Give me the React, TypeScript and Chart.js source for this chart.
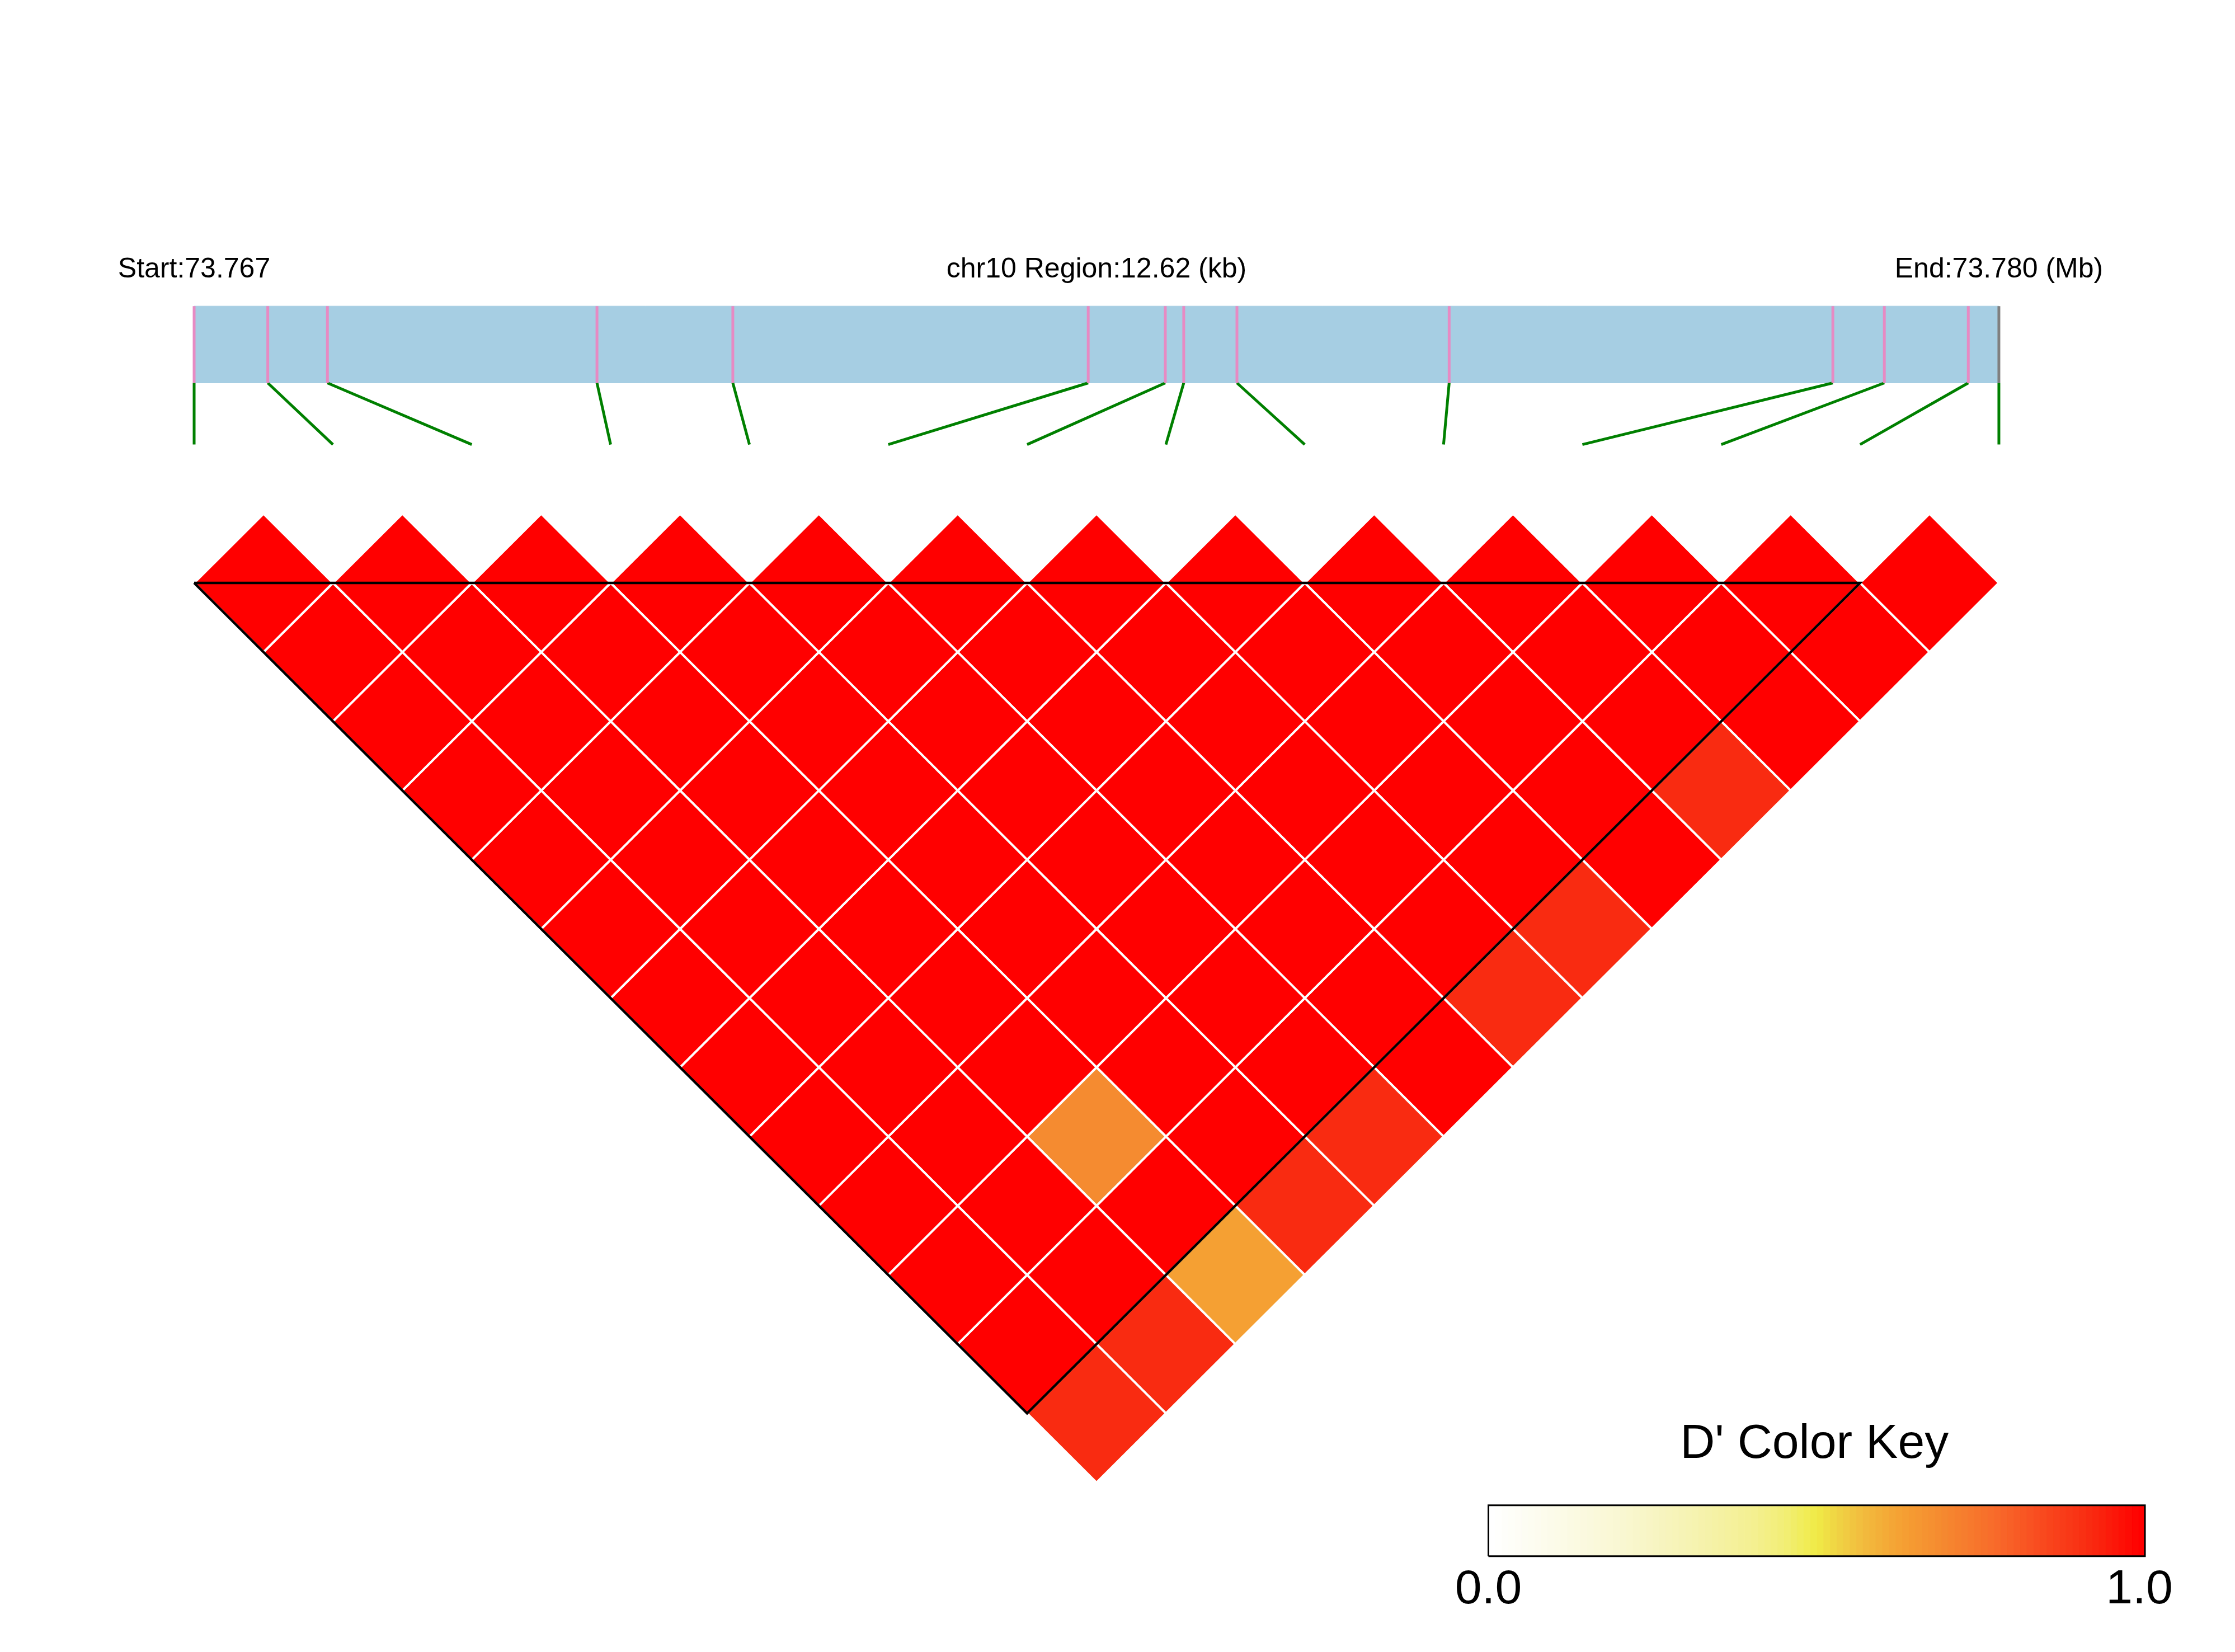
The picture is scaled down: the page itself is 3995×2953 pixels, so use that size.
import React, { useEffect, useRef } from 'react';
import { Chart, registerables } from 'chart.js';

Chart.register(...registerables);

// ---------------- data ----------------
const CHROM = 'chr10';
// SNP physical positions (bp)
const SNP_POS = [
  73767000, 73767515, 73767932, 73769817, 73770767, 73773252, 73773791,
  73773920, 73774292, 73775776, 73778459, 73778819, 73779406, 73779620,
];
// D' values, row i = SNP i paired with SNP i+1 ... SNP last
const DPRIME: number[][] = [
  [1, 1, 1, 1, 1, 1, 1, 1, 1, 1, 1, 1, 0.92],
  [1, 1, 1, 1, 1, 1, 1, 1, 1, 1, 1, 0.92],
  [1, 1, 1, 1, 1, 1, 1, 1, 0.69, 1, 0.63],
  [1, 1, 1, 1, 1, 1, 1, 1, 1, 0.92],
  [1, 1, 1, 1, 1, 1, 1, 1, 0.92],
  [1, 1, 1, 1, 1, 1, 1, 1],
  [1, 1, 1, 1, 1, 1, 0.92],
  [1, 1, 1, 1, 1, 0.92],
  [1, 1, 1, 1, 1],
  [1, 1, 1, 0.92],
  [1, 1, 1],
  [1, 1],
  [1],
];
// LD blocks as [first SNP index, last SNP index]
const LD_BLOCKS = [[0, 12]];
const KEY_TITLE = "D' Color Key";
const KEY_TICKS = [0, 1];

// colour scale (style)
const COLOR_STOPS = [0, 0.1, 0.2, 0.3, 0.4, 0.45, 0.5, 0.53, 0.57, 0.63, 0.69, 0.78, 0.85, 0.92, 1];
const COLOR_HEX = [
  '#FFFFFF', '#FCFBE8', '#F9F7D2', '#F6F3B4', '#F4F092', '#F2EE76', '#F0EB46',
  '#F0D444', '#F2BC3E', '#F5A033', '#F58B30', '#F8682A', '#F9481E', '#F92B11', '#FF0000',
];
const KEY_STEPS = 100;

// ---------------- layout (pixels) ----------------
const W = 3995;
const H = 2953;
const ORIGIN_X = 347;
const UNIT_X = 248.15;
const ORIGIN_Y = 1042;
const UNIT_Y = 247.4;
const KEY_LEFT = 2660.5;
const KEY_RIGHT = 3834;
const KEY_TOP = 2690.7;
const KEY_BOTTOM = 2781.7;
const KEY_LABEL_SHIFT = [0, -10]; // px nudges for tick labels

const BAR_TOP = 2.0;
const BAR_BOTTOM = 1.445;
const CONNECT_Y = 1.0;
const HEADER_Y = 2.205;
const KEY_TITLE_Y = 1.934;
const KEY_LABEL_Y = -0.926;

const BAR_COLOR = '#A6CEE3';
const TICK_COLOR = '#E78AC3';
const LAST_TICK_COLOR = '#808080';
const CONNECT_COLOR = '#008000';
const FONT = '"Liberation Sans", Arial, Helvetica, sans-serif';

function hexToRgb(h: string) {
  const n = parseInt(h.slice(1), 16);
  return [(n >> 16) & 255, (n >> 8) & 255, n & 255];
}
function colorFor(v: number) {
  const t = Math.max(0, Math.min(1, v));
  let k = 0;
  while (k < COLOR_STOPS.length - 2 && t > COLOR_STOPS[k + 1]) k++;
  const a = hexToRgb(COLOR_HEX[k]);
  const b = hexToRgb(COLOR_HEX[k + 1]);
  const f = (t - COLOR_STOPS[k]) / (COLOR_STOPS[k + 1] - COLOR_STOPS[k]);
  const c = a.map((x, i) => Math.round(x + (b[i] - x) * f));
  return `rgb(${c[0]},${c[1]},${c[2]})`;
}

function buildDatasets() {
  const N = SNP_POS.length;
  const start = SNP_POS[0];
  const end = SNP_POS[N - 1];
  const phys = (p: number) => ((p - start) / (end - start)) * (N - 1);
  const ds: any[] = [];
  const base = { showLine: true, pointRadius: 0, pointHoverRadius: 0, tension: 0 };

  // block outlines (on top)
  LD_BLOCKS.forEach(([a, b]) => {
    const mid = (a + b) / 2;
    const depth = -(b - a) / 2;
    ds.push({
      ...base,
      data: [
        { x: a, y: 0 },
        { x: b, y: 0 },
        { x: mid, y: depth },
        { x: a, y: 0 },
      ],
      fill: false,
      borderColor: '#000000',
      borderWidth: 4.5,
      borderJoinStyle: 'miter',
      order: 1,
    });
  });

  // colour key border
  ds.push({
    ...base,
    xAxisID: 'kx',
    yAxisID: 'ky',
    data: [
      { x: 0, y: 0 },
      { x: 1, y: 0 },
      { x: 1, y: 1 },
      { x: 0, y: 1 },
      { x: 0, y: 0 },
    ],
    fill: false,
    borderColor: '#000000',
    borderWidth: 3,
    borderJoinStyle: 'miter',
    order: 1,
  });

  // SNP ticks on gene bar
  SNP_POS.forEach((p, i) => {
    const u = phys(p);
    ds.push({
      ...base,
      data: [
        { x: u, y: BAR_BOTTOM },
        { x: u, y: BAR_TOP },
      ],
      fill: false,
      borderColor: i === N - 1 ? LAST_TICK_COLOR : TICK_COLOR,
      borderWidth: 5,
      order: 5,
    });
    // connector to LD matrix position
    ds.push({
      ...base,
      data: [
        { x: u, y: BAR_BOTTOM },
        { x: i, y: CONNECT_Y },
      ],
      fill: false,
      borderColor: CONNECT_COLOR,
      borderWidth: 5,
      order: 5,
    });
  });

  // gene region bar
  ds.push({
    ...base,
    data: [
      { x: 0, y: BAR_BOTTOM },
      { x: N - 1, y: BAR_BOTTOM },
      { x: N - 1, y: BAR_TOP },
      { x: 0, y: BAR_TOP },
      { x: 0, y: BAR_BOTTOM },
    ],
    fill: 'shape',
    backgroundColor: BAR_COLOR,
    borderColor: BAR_COLOR,
    borderWidth: 1,
    order: 10,
  });

  // LD cells
  DPRIME.forEach((row, i) => {
    row.forEach((v, k) => {
      const j = i + 1 + k;
      const cx = (i + j) / 2;
      const cy = -(j - i - 1) / 2;
      ds.push({
        ...base,
        data: [
          { x: cx - 0.5, y: cy },
          { x: cx, y: cy + 0.5 },
          { x: cx + 0.5, y: cy },
          { x: cx, y: cy - 0.5 },
          { x: cx - 0.5, y: cy },
        ],
        fill: 'shape',
        backgroundColor: colorFor(v),
        borderColor: '#FFFFFF',
        borderWidth: 4,
        borderJoinStyle: 'miter',
        order: 10,
      });
    });
  });

  // colour key blocks
  for (let k = 0; k < KEY_STEPS; k++) {
    const x0 = k / KEY_STEPS;
    const x1 = (k + 1) / KEY_STEPS;
    const c = colorFor(k / (KEY_STEPS - 1));
    ds.push({
      ...base,
      xAxisID: 'kx',
      yAxisID: 'ky',
      data: [
        { x: x0, y: 0 },
        { x: x1, y: 0 },
        { x: x1, y: 1 },
        { x: x0, y: 1 },
        { x: x0, y: 0 },
      ],
      fill: 'shape',
      backgroundColor: c,
      borderColor: c,
      borderWidth: 1,
      order: 10,
    });
  }
  return ds;
}

const textPlugin = {
  id: 'ldText',
  afterDraw(chart: any) {
    const { ctx, scales } = chart;
    const N = SNP_POS.length;
    const start = SNP_POS[0];
    const end = SNP_POS[N - 1];
    ctx.save();
    ctx.fillStyle = '#000000';
    ctx.textAlign = 'center';
    ctx.textBaseline = 'alphabetic';
    ctx.font = `50px ${FONT}`;
    const yH = scales.y.getPixelForValue(HEADER_Y);
    ctx.fillText(`Start:${(start / 1e6).toFixed(3)}`, scales.x.getPixelForValue(0), yH);
    ctx.fillText(
      `${CHROM} Region:${((end - start) / 1000).toFixed(2)} (kb)`,
      scales.x.getPixelForValue((N - 1) / 2),
      yH,
    );
    ctx.fillText(`End:${(end / 1e6).toFixed(3)} (Mb)`, scales.x.getPixelForValue(N - 1), yH);

    ctx.font = `86px ${FONT}`;
    ctx.fillText(KEY_TITLE, scales.kx.getPixelForValue(0.5) - 4, scales.ky.getPixelForValue(KEY_TITLE_Y));
    KEY_TICKS.forEach((t, idx) => {
      ctx.fillText(
        t.toFixed(1),
        scales.kx.getPixelForValue(t) + KEY_LABEL_SHIFT[idx],
        scales.ky.getPixelForValue(KEY_LABEL_Y),
      );
    });
    ctx.restore();
  },
};

export default function App() {
  const ref = useRef<HTMLCanvasElement>(null);
  useEffect(() => {
    const canvas = ref.current;
    if (!canvas) return;
    const kxUnit = KEY_RIGHT - KEY_LEFT;
    const kyUnit = KEY_BOTTOM - KEY_TOP;
    const chart = new Chart(canvas, {
      type: 'scatter',
      data: { datasets: buildDatasets() },
      options: {
        animation: false,
        responsive: false,
        maintainAspectRatio: false,
        events: [],
        layout: { padding: 0 },
        elements: { point: { radius: 0 } },
        plugins: {
          legend: { display: false },
          tooltip: { enabled: false },
          title: { display: false },
        },
        scales: {
          x: {
            type: 'linear',
            display: false,
            min: -ORIGIN_X / UNIT_X,
            max: (W - ORIGIN_X) / UNIT_X,
          },
          y: {
            type: 'linear',
            display: false,
            min: -(H - ORIGIN_Y) / UNIT_Y,
            max: ORIGIN_Y / UNIT_Y,
          },
          kx: {
            type: 'linear',
            axis: 'x',
            position: 'bottom',
            display: false,
            min: -KEY_LEFT / kxUnit,
            max: (W - KEY_LEFT) / kxUnit,
          },
          ky: {
            type: 'linear',
            axis: 'y',
            position: 'left',
            display: false,
            min: -(H - KEY_BOTTOM) / kyUnit,
            max: KEY_BOTTOM / kyUnit,
          },
        },
      } as any,
      plugins: [textPlugin],
    });
    return () => chart.destroy();
  }, []);
  return (
    <div style={{ position: 'fixed', left: 0, top: 0, width: W, height: H, background: '#ffffff' }}>
      <canvas ref={ref} width={W} height={H} style={{ width: W, height: H, display: 'block' }} />
    </div>
  );
}
